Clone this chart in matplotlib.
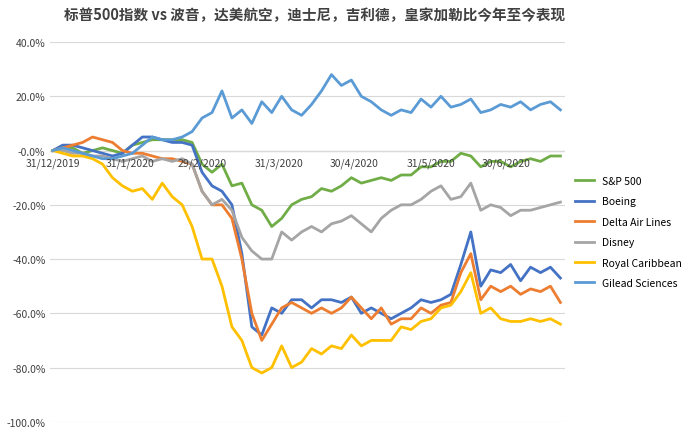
import numpy as np
import matplotlib.pyplot as plt

plt.rcParams['font.family'] = ['Noto Sans CJK SC', 'DejaVu Sans']

# one sample every 4 calendar days from 31/12/2019
days = np.arange(0, 208, 4)

sp500 = [0, 1, 1, -1, 0, 1, 0, -1, 2, 3, 4, 4, 4, 4, 3, -5, -8, -5, -13, -12, -20, -22, -28, -25, -20, -18,
         -17, -14, -15, -13, -10, -12, -11, -10, -11, -9, -9, -6, -6, -4, -4, -1, -2, -6, -4, -4, -6, -4, -3, -4, -2, -2]
boeing = [0, 2, 2, 1, 0, -1, -2, -1, 2, 5, 5, 4, 3, 3, 2, -8, -13, -15, -20, -38, -65, -68, -58, -60, -55, -55,
          -58, -55, -55, -56, -54, -60, -58, -60, -62, -60, -58, -55, -56, -55, -53, -42, -30, -50, -44, -45, -42, -48, -43, -45, -43, -47]
delta = [0, 1, 2, 3, 5, 4, 3, 0, -1, -1, -2, -3, -3, -4, -5, -15, -20, -20, -25, -40, -60, -70, -64, -58, -56, -58,
         -60, -58, -60, -58, -54, -58, -62, -58, -64, -62, -62, -58, -60, -57, -56, -45, -38, -55, -50, -52, -50, -53, -51, -52, -50, -56]
disney = [0, 0, -1, -1, -2, -2, -3, -4, -3, -2, -4, -3, -4, -3, -5, -15, -20, -18, -22, -32, -37, -40, -40, -30, -33, -30,
          -28, -30, -27, -26, -24, -27, -30, -25, -22, -20, -20, -18, -15, -13, -18, -17, -12, -22, -20, -21, -24, -22, -22, -21, -20, -19]
royal = [0, -1, -2, -2, -3, -5, -10, -13, -15, -14, -18, -12, -17, -20, -28, -40, -40, -50, -65, -70, -80, -82, -80, -72, -80, -78,
         -73, -75, -72, -73, -68, -72, -70, -70, -70, -65, -66, -63, -62, -58, -57, -52, -45, -60, -58, -62, -63, -63, -62, -63, -62, -64]
gilead = [0, 1, 0, -1, -2, -3, -3, -2, -1, 2, 5, 4, 4, 5, 7, 12, 14, 22, 12, 15, 10, 18, 14, 20, 15, 13,
          17, 22, 28, 24, 26, 20, 18, 15, 13, 15, 14, 19, 16, 20, 16, 17, 19, 14, 15, 17, 16, 18, 15, 17, 18, 15]

names = ['S&P 500', 'Boeing', 'Delta Air Lines', 'Disney', 'Royal Caribbean', 'Gilead Sciences']
colors = ['#70AD47', '#4472C4', '#ED7D31', '#A5A5A5', '#FFC000', '#5B9BD5']
tick_days = [0, 31, 60, 91, 121, 152, 182]
tick_labels = ['31/12/2019', '31/1/2020', '29/2/2020', '31/3/2020', '30/4/2020', '31/5/2020', '30/6/2020']

fig = plt.figure(figsize=(6.98, 4.35), dpi=100)
ax = fig.add_axes([0.072, 0.028, 0.738, 0.873])

for vals, name, c in zip([sp500, boeing, delta, disney, royal, gilead], names, colors):
    ax.plot(days, np.array(vals) / 100, color=c, lw=2, label=name)

ax.set_ylim(-1.0, 0.4)
ax.set_xlim(-1, 206)
ax.set_yticks(np.arange(-1.0, 0.41, 0.2))
ax.set_yticklabels([f'{v * 100:.1f}%' for v in np.arange(-1.0, 0.41, 0.2)], fontsize=7.5, color='#404040')
ax.grid(axis='y', color='#D9D9D9', lw=0.8)
ax.axhline(0, color='#D9D9D9', lw=1, zorder=0)
ax.set_axisbelow(True)
ax.set_xticks([])
for d, lab in zip(tick_days, tick_labels):
    ax.text(d, -0.025, lab, ha='center', va='top', fontsize=7.5, color='#404040')
for s in ax.spines.values():
    s.set_visible(False)
ax.tick_params(axis='y', length=0)

ax.legend(loc='center left', bbox_to_anchor=(1.0, 0.5), frameon=False, fontsize=7.5,
          handlelength=1.8, labelspacing=1.0)
fig.text(0.45, 0.965, '标普500指数 vs 波音，达美航空，迪士尼，吉利德，皇家加勒比今年至今表现',
         ha='center', va='center', fontsize=10.5, fontweight='bold', color='#404040')

fig.savefig('out.png')
